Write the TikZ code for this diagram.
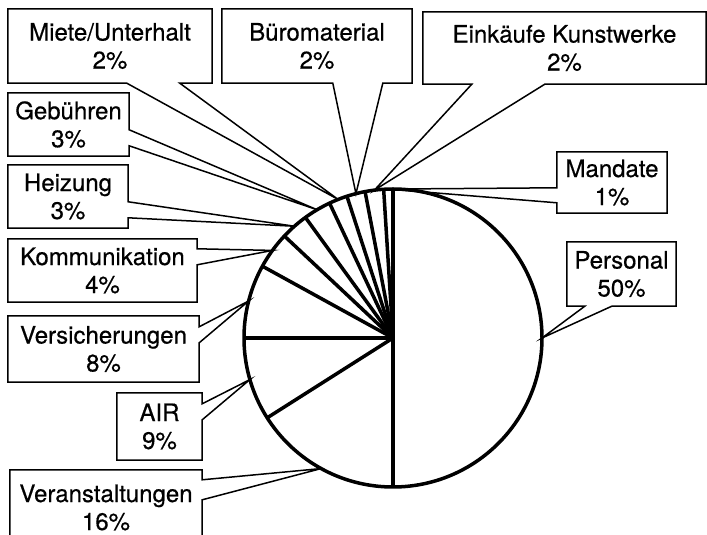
\documentclass[tikz,border=0pt]{standalone}
\usepackage{fontspec}
\setmainfont{TeX Gyre Heros}[FakeBold=0.5]
\usetikzlibrary{calc}

\begin{document}
\begin{tikzpicture}[x=1pt, y=1pt, box/.style = {inner sep=0pt, align=center, font=\fontsize{24}{28}\selectfont}, call/.style = {line width=1.5pt, line join=miter}, pie/.style = {line width=3.5pt, line join=round}]
		\useasboundingbox (0,0) rectangle (707,535);
		\coordinate (c) at (393,197);
		\node[box, minimum width=204, minimum height=74] (miete) at (110,489) {Miete/Unterhalt\\2\%};
		\node[box, minimum width=190, minimum height=74] (buero) at (317,489) {Büromaterial\\2\%};
		\node[box, minimum width=283, minimum height=72] (einkauf) at (564.5,487) {Einkäufe Kunstwerke\\2\%};
		\node[box, minimum width=110, minimum height=61] (mandate) at (612,352.5) {Mandate\\1\%};
		\node[box, minimum width=109, minimum height=64] (personal) at (621.5,261) {Personal\\50\%};
		\node[box, minimum width=121, minimum height=63] (gebuehren) at (68.5,410.5) {Gebühren\\3\%};
		\node[box, minimum width=120, minimum height=63] (heizung) at (68,338.5) {Heizung\\3\%};
		\node[box, minimum width=189, minimum height=63] (komm) at (102.5,264.5) {Kommunikation\\4\%};
		\node[box, minimum width=191, minimum height=66] (vers) at (103.5,186) {Versicherungen\\8\%};
		\node[box, minimum width=85, minimum height=67] (air) at (159.5,108.5) {AIR\\9\%};
		\node[box, minimum width=192, minimum height=75] (veranst) at (106,27.5) {Veranstaltungen\\16\%};
		\coordinate (tpersonal) at ($(c)+(0:149)$);
		\coordinate (tveranst) at ($(c)+(241.2:149)$);
		\coordinate (tair) at ($(c)+(196.2:149)$);
		\coordinate (tvers) at ($(c)+(165.6:149)$);
		\coordinate (tkomm) at ($(c)+(144:149)$);
		\coordinate (theizung) at ($(c)+(131.4:149)$);
		\coordinate (tgebuehren) at ($(c)+(120.6:149)$);
		\coordinate (tmiete) at ($(c)+(111.6:149)$);
		\coordinate (tbuero) at ($(c)+(104.4:149)$);
		\coordinate (teinkauf) at ($(c)+(97.2:149)$);
		\coordinate (tmandate) at ($(c)+(91.8:149)$);
		\draw[call] (miete.south west) -- (miete.north west) -- (miete.north east) -- (miete.south east) -- ($(miete.south west)+(172,0)$) -- (tmiete) -- ($(miete.south west)+(119,0)$) -- cycle;
		\draw[call] (buero.south west) -- (buero.north west) -- (buero.north east) -- (buero.south east) -- ($(buero.south west)+(161,0)$) -- (tbuero) -- ($(buero.south west)+(111,0)$) -- cycle;
		\draw[call] (einkauf.south west) -- (einkauf.north west) -- (einkauf.north east) -- (einkauf.south east) -- ($(einkauf.south west)+(122,0)$) -- (teinkauf) -- ($(einkauf.south west)+(49,0)$) -- cycle;
		\draw[call] (personal.south west) -- (personal.north west) -- (personal.north east) -- (personal.south east) -- ($(personal.south west)+(45,0)$) -- (tpersonal) -- ($(personal.south west)+(18,0)$) -- cycle;
		\draw[call] (mandate.north west) -- (mandate.north east) -- (mandate.south east) -- (mandate.south west) -- ($(mandate.north west)+(0,-51)$) -- (tmandate) -- ($(mandate.north west)+(0,-36)$) -- cycle;
		\draw[call] (gebuehren.north west) -- (gebuehren.north east) -- ($(gebuehren.north east)+(0,-37)$) -- (tgebuehren) -- ($(gebuehren.north east)+(0,-53)$) -- (gebuehren.south east) -- (gebuehren.south west) -- cycle;
		\draw[call] (heizung.north west) -- (heizung.north east) -- ($(heizung.north east)+(0,-37)$) -- (theizung) -- ($(heizung.north east)+(0,-53)$) -- (heizung.south east) -- (heizung.south west) -- cycle;
		\draw[call] (komm.north west) -- (komm.north east) -- ($(komm.north east)+(0,-10)$) -- (tkomm) -- ($(komm.north east)+(0,-26)$) -- (komm.south east) -- (komm.south west) -- cycle;
		\draw[call] (vers.north west) -- (vers.north east) -- ($(vers.north east)+(0,-11)$) -- (tvers) -- ($(vers.north east)+(0,-27)$) -- (vers.south east) -- (vers.south west) -- cycle;
		\draw[call] (air.north west) -- (air.north east) -- ($(air.north east)+(0,-11)$) -- (tair) -- ($(air.north east)+(0,-27)$) -- (air.south east) -- (air.south west) -- cycle;
		\draw[call] (veranst.north west) -- (veranst.north east) -- ($(veranst.north east)+(0,-10)$) -- (tveranst) -- ($(veranst.north east)+(0,-30)$) -- (veranst.south east) -- (veranst.south west) -- cycle;
		\draw[pie] (c) circle (149);
		\draw[pie] ($(c)+(90:149)$) -- ($(c)+(270:149)$);
		\draw[pie] (c) -- ($(c)+(212.4:149)$);
		\draw[pie] (c) -- ($(c)+(180:149)$);
		\draw[pie] (c) -- ($(c)+(151.2:149)$);
		\draw[pie] (c) -- ($(c)+(136.8:149)$);
		\draw[pie] (c) -- ($(c)+(126:149)$);
		\draw[pie] (c) -- ($(c)+(115.2:149)$);
		\draw[pie] (c) -- ($(c)+(108:149)$);
		\draw[pie] (c) -- ($(c)+(100.8:149)$);
		\draw[pie] (c) -- ($(c)+(93.6:149)$);
	\end{tikzpicture}
\end{document}
